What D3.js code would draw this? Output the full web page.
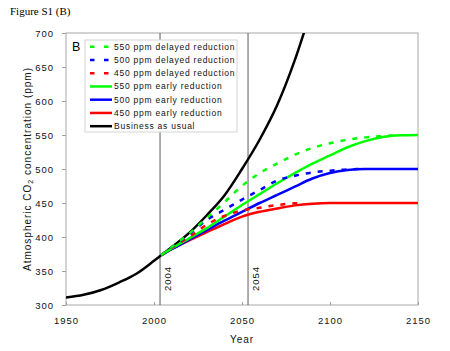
<!DOCTYPE html>
<html lang="en">
<head>
<meta charset="UTF-8">
<title>Figure S1 (B)</title>
<script src="https://cdn.jsdelivr.net/npm/d3@7"></script>
<style>
  body { margin: 0; background: #fff; }
  svg { font-family: "Liberation Sans", Arial, sans-serif; }
  .axis text { font-size: 9.5px; letter-spacing: 1px; fill: #111; }
  .axis path, .axis line { stroke: #a0a0a0; }
  .legend text { font-size: 8.5px; letter-spacing: 0.75px; fill: #111; }
</style>
</head>
<body>
<svg width="450" height="351"></svg>
<script>
// values
var bauYears = [1950, 1960, 1970, 1980, 1990, 2000, 2004, 2010, 2020, 2030, 2040, 2050, 2060, 2070, 2080, 2090];
var bauPpm   = [311, 315, 322, 333, 346, 365, 373, 385, 406, 432, 461, 500, 543, 594, 660, 740];

var early550Years = [2004, 2010, 2020, 2030, 2040, 2050, 2060, 2070, 2080, 2090, 2100, 2110, 2120, 2130, 2140, 2150];
var early550Ppm   = [373, 383, 398, 413, 430, 447, 463, 479, 494, 508, 520, 532, 541, 547, 549.5, 550];
var early500Years = [2004, 2010, 2020, 2030, 2040, 2050, 2060, 2070, 2080, 2090, 2100, 2110, 2120, 2130, 2150];
var early500Ppm   = [373, 382, 396, 410, 424, 437, 450, 462, 474, 486, 494, 498.5, 500, 500, 500];
var early450Years = [2004, 2010, 2020, 2030, 2040, 2050, 2060, 2070, 2080, 2090, 2100, 2150];
var early450Ppm   = [373, 382, 395, 407, 419, 430, 437, 442, 446.5, 449, 450, 450];

var delayed550Years = [2004, 2010, 2020, 2030, 2040, 2050, 2060, 2070, 2080, 2090, 2100, 2110, 2120, 2130, 2140];
var delayed550Ppm   = [373, 385, 405, 428, 451, 475, 494, 508, 521, 531, 538, 543, 546.5, 548.5, 550];
var delayed500Years = [2004, 2010, 2020, 2030, 2040, 2050, 2060, 2070, 2080, 2090, 2100, 2110, 2117];
var delayed500Ppm   = [373, 385, 404, 425, 440, 455, 469, 483, 490, 495, 497.5, 499.5, 500];
var delayed450Years = [2004, 2010, 2020, 2030, 2040, 2050, 2060, 2070, 2080, 2085];
var delayed450Ppm   = [373, 384, 400, 418, 431, 439, 443, 447, 449.5, 450];

var markerYears = [2004, 2054];
var yTicks = [300, 350, 400, 450, 500, 550, 600, 650, 700];
var xTicks = [1950, 2000, 2050, 2100, 2150];

var series = [
  {name: "550 ppm delayed reduction", color: "#00ff00", dashed: true,  years: delayed550Years, ppm: delayed550Ppm},
  {name: "500 ppm delayed reduction", color: "#0000ff", dashed: true,  years: delayed500Years, ppm: delayed500Ppm},
  {name: "450 ppm delayed reduction", color: "#ff0000", dashed: true,  years: delayed450Years, ppm: delayed450Ppm},
  {name: "550 ppm early reduction",   color: "#00ff00", dashed: false, years: early550Years, ppm: early550Ppm},
  {name: "500 ppm early reduction",   color: "#0000ff", dashed: false, years: early500Years, ppm: early500Ppm},
  {name: "450 ppm early reduction",   color: "#ff0000", dashed: false, years: early450Years, ppm: early450Ppm},
  {name: "Business as usual",         color: "#000000", dashed: false, years: bauYears, ppm: bauPpm}
];

var svg = d3.select("svg");
var margin = {top: 33, right: 32, bottom: 46, left: 66};
var width = 450 - margin.left - margin.right;
var height = 351 - margin.top - margin.bottom;

var x = d3.scaleLinear().domain([1950, 2150]).range([0, width]);
var y = d3.scaleLinear().domain([300, 700]).range([height, 0]);

var g = svg.append("g").attr("transform", "translate(" + margin.left + "," + margin.top + ")");

g.append("clipPath").attr("id", "plotClip")
  .append("rect").attr("width", width).attr("height", height);

// frame
g.append("rect")
  .attr("width", width).attr("height", height)
  .attr("fill", "none").attr("stroke", "#a8a8a8").attr("stroke-width", 1);

g.append("g").attr("class", "y axis")
  .call(d3.axisLeft(y).tickValues(yTicks).tickSize(4).tickSizeOuter(0).tickPadding(8))
  .call(function(a) { a.select(".domain").remove(); });

g.append("g").attr("class", "x axis")
  .attr("transform", "translate(0," + height + ")")
  .call(d3.axisBottom(x).tickValues(xTicks).tickSize(-3).tickSizeOuter(0).tickPadding(12).tickFormat(d3.format("d")))
  .call(function(a) { a.select(".domain").remove(); });

// year markers
g.selectAll(".marker").data(markerYears).enter().append("line")
  .attr("x1", function(d) { return x(d) - 1; }).attr("x2", function(d) { return x(d) - 1; })
  .attr("y1", 0).attr("y2", height)
  .attr("stroke", "#4a4a4a").attr("stroke-width", 0.9);

g.selectAll(".markerLabel").data(markerYears).enter().append("text")
  .attr("transform", function(d) { return "translate(" + (x(d) + 10) + "," + (height - 14) + ") rotate(-90)"; })
  .attr("font-size", "9.5px").attr("letter-spacing", "1px").attr("fill", "#111")
  .text(function(d) { return d; });

var line = d3.line()
  .x(function(d) { return x(d[0]); })
  .y(function(d) { return y(d[1]); })
  .curve(d3.curveMonotoneX);

var drawOrder = [6, 5, 4, 3, 2, 1, 0];
var lines = g.append("g").attr("clip-path", "url(#plotClip)");
drawOrder.forEach(function(i) {
  var s = series[i];
  lines.append("path")
    .datum(s.years.map(function(yr, j) { return [yr, s.ppm[j]]; }))
    .attr("d", line)
    .attr("fill", "none")
    .attr("stroke", s.color)
    .attr("stroke-width", 2.5)
    .attr("stroke-dasharray", s.dashed ? "5,7" : null);
});

// legend, drawn over the marker lines
var legend = svg.append("g").attr("class", "legend");
legend.append("rect")
  .attr("x", 85).attr("y", 40).attr("width", 152).attr("height", 92)
  .attr("fill", "#fff").attr("stroke", "#d4d4d4");

var rows = legend.selectAll(".row").data(series).enter().append("g")
  .attr("transform", function(d, i) { return "translate(90," + (46.7 + i * 13.25) + ")"; });
rows.append("line")
  .attr("x1", 0).attr("x2", 22).attr("y1", 0).attr("y2", 0)
  .attr("stroke", function(d) { return d.color; })
  .attr("stroke-width", 2.5)
  .attr("stroke-dasharray", function(d) { return d.dashed ? "4.5,9.5" : null; });
rows.append("text")
  .attr("x", 24).attr("dy", "0.35em")
  .text(function(d) { return d.name; });

svg.append("text")
  .attr("x", 72).attr("y", 51)
  .attr("font-size", "12.5px")
  .text("B");

// titles
svg.append("text")
  .attr("x", 10).attr("y", 15)
  .attr("font-family", "'Liberation Serif', 'Times New Roman', serif")
  .attr("font-size", "11px")
  .text("Figure S1 (B)");

svg.append("text")
  .attr("x", margin.left + width / 2).attr("y", 343)
  .attr("text-anchor", "middle")
  .attr("font-size", "10px").attr("letter-spacing", "1px").attr("fill", "#111")
  .text("Year");

var yLabel = svg.append("text")
  .attr("transform", "translate(31," + (margin.top + height / 2) + ") rotate(-90)")
  .attr("text-anchor", "middle")
  .attr("font-size", "10px").attr("letter-spacing", "1px").attr("fill", "#111");
yLabel.append("tspan").text("Atmospheric CO");
yLabel.append("tspan").attr("font-size", "7px").attr("dy", "2").text("2");
yLabel.append("tspan").attr("dy", "-2").text(" concentration (ppm)");
</script>
</body>
</html>
